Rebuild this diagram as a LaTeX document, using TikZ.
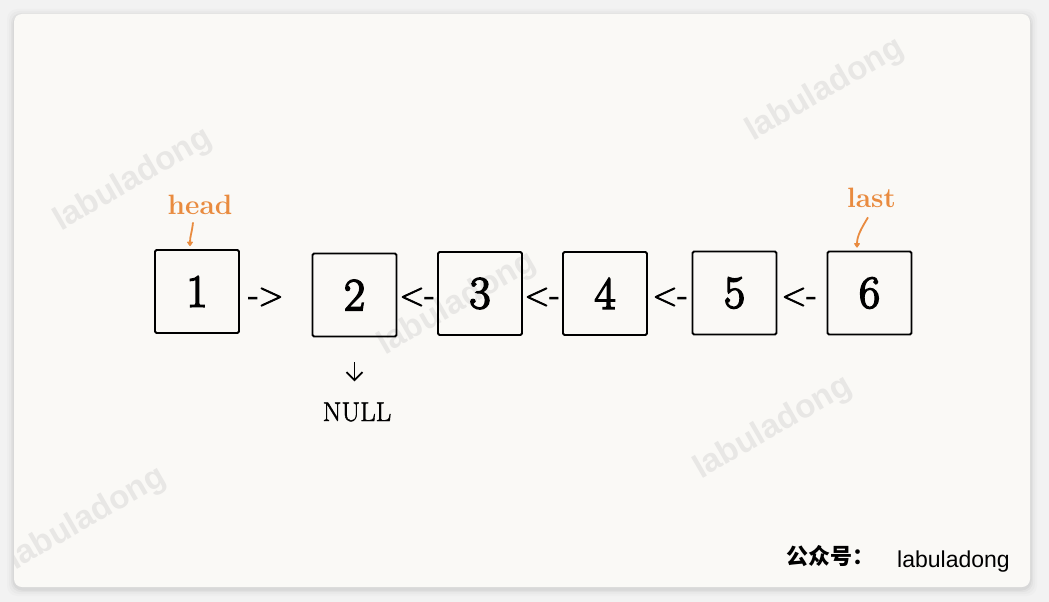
\documentclass[tikz,border=0pt]{standalone}
\usepackage{fontspec}
\newfontfamily\wmfont{Liberation Sans}
\newfontfamily\cjkfont{Noto Sans CJK SC}
\newfontfamily\digitfont{Latin Modern Roman}[FakeBold=3.5]
\newfontfamily\linkfont{Latin Modern Roman}[FakeBold=2.5]
\newfontfamily\nulltextfont{Latin Modern Roman}[FakeBold=1.5]
\usetikzlibrary{arrows.meta}
\definecolor{outerbg}{HTML}{F2F2F2}
\definecolor{panelbg}{HTML}{FAF9F6}
\definecolor{wmgray}{HTML}{E8E7E5}
\definecolor{hl}{HTML}{E98B3F}
\begin{document}
\begin{tikzpicture}[x=1pt,y=-1pt,
  box/.style={draw=black, line width=1.8pt, rounded corners=1.5pt,
    minimum width=84pt, minimum height=83pt, inner sep=0pt,
    font=\digitfont\fontsize{46}{46}\selectfont},
  linktext/.style={inner sep=0pt, font=\linkfont\fontsize{33}{33}\selectfont},
  ptrlabel/.style={inner sep=1pt, text=hl, font=\bfseries\fontsize{28}{28}\selectfont},
  ptrarrow/.style={draw=hl, line width=1.8pt, -{Triangle[length=5pt,width=6.5pt,round]}},
  nulltext/.style={inner sep=1pt, font=\nulltextfont\fontsize{27}{27}\selectfont},
  downarrow/.style={draw=black, line width=1.8pt, -{Straight Barb[length=8pt,width=16pt]}},
  wmark/.style={inner sep=0pt, text=wmgray, rotate=30,
    font=\wmfont\bfseries\fontsize{33}{33}\selectfont}
]
\useasboundingbox (0,0) rectangle (1049,602);
% background and panel
\fill[outerbg] (0,0) rectangle (1049,602);
\foreach \d/\o in {7/0.015,5/0.02,3/0.03,1.5/0.04}
  \fill[black,opacity=\o,rounded corners=10pt] (14-\d,14-\d+2) rectangle (1030+\d,587+\d+2);
\fill[panelbg, rounded corners=8pt] (14,14) rectangle (1030,587);
% watermarks
\begin{scope}
  \clip[rounded corners=8pt] (14,14) rectangle (1030,587);
  \node[wmark] (wm1) at (133,180) {labuladong};
  \node[wmark] (wm2) at (825,90) {labuladong};
  \node[wmark] (wm3) at (773,428) {labuladong};
  \node[wmark] (wm4) at (457,304) {labuladong};
  \node[wmark] (wm5) at (87,519) {labuladong};
\end{scope}
% boxes
\node[box] (b1) at (197,291.5) {1};
\node[box] (b2) at (354.5,295) {2};
\node[box] (b3) at (480,293.5) {3};
\node[box] (b4) at (605,293.5) {4};
\node[box] (b5) at (734.5,293) {5};
\node[box] (b6) at (869.5,293) {6};
% link texts
\node[linktext] (l12) at (266,297) {->};
\node[linktext] (l23) at (417,297) {<-};
\node[linktext] (l34) at (542,297) {<-};
\node[linktext] (l45) at (670,297) {<-};
\node[linktext] (l56) at (799,297) {<-};
% pointers
\node[ptrlabel, anchor=base] (head) at (200,214) {head};
\node[ptrlabel, anchor=base] (last) at (871.5,207) {last};
\draw[ptrarrow] ([xshift=-7pt,yshift=-7pt]head.south) .. controls +(-1,10) and +(0,-10) .. ([xshift=-7pt,yshift=3pt]b1.north);
\draw[ptrarrow] ([xshift=-3.5pt,yshift=-9pt]last.south) .. controls +(-6,10) and +(0,-12) .. ([xshift=-12.5pt,yshift=3pt]b6.north);
% NULL
\node[nulltext, anchor=base] (null) at (357,421) {NULL};
\draw[downarrow, shorten <=25pt, shorten >=20pt] (b2.south) -- (b2.south |- null.north);
% footer
\node[anchor=west, inner sep=0pt, font=\cjkfont\bfseries\fontsize{22}{22}\selectfont] (gzh) at (786,556) {公众号：};
\node[anchor=base west, inner sep=0pt, font=\wmfont\fontsize{23}{23}\selectfont] (brand) at (897,567) {labuladong};
\end{tikzpicture}
\end{document}
